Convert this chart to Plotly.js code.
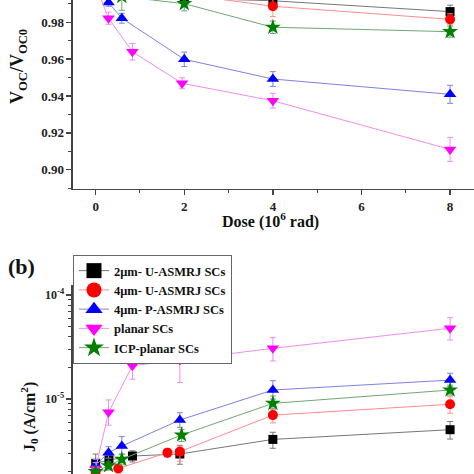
<!DOCTYPE html>
<html><head><meta charset="utf-8">
<script src="https://cdn.plot.ly/plotly-3.0.1.min.js"></script>
<style>html,body{margin:0;padding:0;background:#fff}#chart{width:474px;height:474px}</style>
</head><body><div id="chart"></div>
<script>
// ---------- series ----------
const seriesNames = ['2μm- U-ASMRJ SCs', '4μm- U-ASMRJ SCs', '4μm- P-ASMRJ SCs', 'planar SCs', 'ICP-planar SCs'];
const markerSymbols = ['square', 'circle', 'triangle-up', 'triangle-down', 'star'];
const markerColors = ['#000000', '#ff0000', '#0000ff', '#ff00ff', '#008000'];
const lineColors = ['#777777', '#ff8c8c', '#8080e6', '#f08cf0', '#70a870'];

// ---------- panel (a): Voc/Voc0 vs dose ----------
const doseA_2umU = [0, 0.3, 0.83, 2, 4, 8];
const vocA_2umU  = [1.0, 0.998, 0.996, 0.993, 0.9917, 0.9858];
const errA_2umU  = [0.001, 0.002, 0.002, 0.002, 0.003, 0.0035];

const doseA_4umU = [0, 0.51, 1.62, 1.9, 4, 8];
const vocA_4umU  = [1.0, 0.998, 0.996, 0.9955, 0.9887, 0.9816];
const errA_4umU  = [0.001, 0.002, 0.002, 0.003, 0.0056, 0.003];

const doseA_4umP = [0, 0.29, 0.59, 2, 4, 8];
const vocA_4umP  = [1.0, 0.9907, 0.9822, 0.9599, 0.9492, 0.9409];
const errA_4umP  = [0.001, 0.002, 0.0027, 0.0039, 0.004, 0.0049];

const doseA_planar = [0, 0.29, 0.83, 1.95, 4, 8];
const vocA_planar  = [1.0, 0.9822, 0.964, 0.9469, 0.9374, 0.911];
const errA_planar  = [0.001, 0.0033, 0.0045, 0.003, 0.004, 0.0065];

const doseA_icp = [0, 0.29, 0.59, 2, 4, 8];
const vocA_icp  = [1.0, 0.997, 0.994, 0.9901, 0.9773, 0.9749];
const errA_icp  = [0.001, 0.002, 0.0075, 0.0039, 0.0034, 0.003];

// ---------- panel (b): J0 vs dose ----------
const doseB_2umU = [0, 0.3, 0.83, 1.9, 4, 8];
const j0B_2umU   = [2.41e-6, 2.59e-6, 2.83e-6, 2.96e-6, 4.09e-6, 5.07e-6];
const j0B_2umU_up = [0.55e-6, 0.3e-6, 0.35e-6, 0.63e-6, 0.7e-6, 1.0e-6];
const j0B_2umU_dn = [0.4e-6, 0.3e-6, 0.35e-6, 0.6e-6, 0.73e-6, 0.95e-6];

const doseB_4umU = [0, 0.51, 1.62, 1.9, 4, 8];
const j0B_4umU   = [2.0e-6, 2.15e-6, 3.05e-6, 3.12e-6, 7.0e-6, 8.9e-6];
const j0B_4umU_up = [0.2e-6, 0.2e-6, 0.3e-6, 0.4e-6, 1.1e-6, 1.6e-6];
const j0B_4umU_dn = [0.2e-6, 0.2e-6, 0.3e-6, 0.6e-6, 1.1e-6, 1.6e-6];

const doseB_4umP = [0, 0.29, 0.59, 1.9, 4, 8];
const j0B_4umP   = [2.32e-6, 3.05e-6, 3.53e-6, 6.28e-6, 1.22e-5, 1.52e-5];
const j0B_4umP_up = [0.3e-6, 0.43e-6, 0.82e-6, 1.1e-6, 2.8e-6, 2.5e-6];
const j0B_4umP_dn = [0.3e-6, 0.35e-6, 0.57e-6, 0.94e-6, 2.2e-6, 2.1e-6];

const doseB_planar = [0, 0.29, 0.83, 1.9, 4, 8];
const j0B_planar   = [2.15e-6, 7.45e-6, 2.09e-5, 2.37e-5, 3.07e-5, 4.79e-5];
const j0B_planar_up = [0.3e-6, 2.35e-6, 0.6e-5, 0.93e-5, 0.82e-5, 1.26e-5];
const j0B_planar_dn = [0.3e-6, 1.85e-6, 0.54e-5, 0.93e-5, 0.75e-5, 1.1e-5];

const doseB_icp = [0, 0.29, 0.59, 1.94, 4, 8];
const j0B_icp   = [2.0e-6, 2.28e-6, 2.63e-6, 4.51e-6, 9.08e-6, 1.22e-5];
const j0B_icp_up = [0.2e-6, 0.2e-6, 0.3e-6, 0.6e-6, 1.6e-6, 1.4e-6];
const j0B_icp_dn = [0.2e-6, 0.2e-6, 0.3e-6, 0.6e-6, 1.1e-6, 1.3e-6];

// tick labels
const xTickVals = [0, 2, 4, 6, 8];
const xTickText = ['0', '2', '4', '6', '8'];
const yATickVals = [0.90, 0.92, 0.94, 0.96, 0.98];
const yATickText = ['0.90', '0.92', '0.94', '0.96', '0.98'];
const yBTickVals = [1e-5, 1e-4];
const yBTickText = ['10<sup>-5</sup>', '10<sup>-4</sup>'];
const yBMinorVals = [2e-6,3e-6,4e-6,5e-6,6e-6,7e-6,8e-6,9e-6,2e-5,3e-5,4e-5,5e-5,6e-5,7e-5,8e-5,9e-5];

// ---------- build ----------
const FONT = '"Liberation Serif", "Times New Roman", Times, serif';
const panelA = [
  [doseA_2umU, vocA_2umU, errA_2umU],
  [doseA_4umU, vocA_4umU, errA_4umU],
  [doseA_4umP, vocA_4umP, errA_4umP],
  [doseA_planar, vocA_planar, errA_planar],
  [doseA_icp, vocA_icp, errA_icp]
];
const panelB = [
  [doseB_2umU, j0B_2umU, j0B_2umU_up, j0B_2umU_dn],
  [doseB_4umU, j0B_4umU, j0B_4umU_up, j0B_4umU_dn],
  [doseB_4umP, j0B_4umP, j0B_4umP_up, j0B_4umP_dn],
  [doseB_planar, j0B_planar, j0B_planar_up, j0B_planar_dn],
  [doseB_icp, j0B_icp, j0B_icp_up, j0B_icp_dn]
];
const mSize = [9, 10, 11, 11, 12];
const traces = [];
panelA.forEach((s, i) => {
  traces.push({
    x: s[0], y: s[1], xaxis: 'x', yaxis: 'y', type: 'scatter', mode: 'lines+markers',
    showlegend: false,
    line: {color: lineColors[i], width: 1},
    marker: {symbol: markerSymbols[i], color: markerColors[i], size: mSize[i]},
    error_y: {type: 'data', array: s[2], visible: true, color: lineColors[i], thickness: 1, width: 3}
  });
});
panelB.forEach((s, i) => {
  traces.push({
    x: s[0], y: s[1], xaxis: 'x2', yaxis: 'y2', type: 'scatter', mode: 'lines+markers',
    showlegend: false,
    line: {color: lineColors[i], width: 1},
    marker: {symbol: markerSymbols[i], color: markerColors[i], size: mSize[i]},
    error_y: {type: 'data', symmetric: false, array: s[2], arrayminus: s[3], visible: true, color: lineColors[i], thickness: 1, width: 3}
  });
});
// legend entries
seriesNames.forEach((n, i) => {
  traces.push({
    x: [null], y: [null], xaxis: 'x2', yaxis: 'y2', type: 'scatter', mode: 'lines+markers',
    name: n, showlegend: true,
    line: {color: lineColors[i], width: 1},
    marker: {symbol: markerSymbols[i], color: markerColors[i], size: 15}
  });
});

const axLine = {showline: true, linecolor: '#444', linewidth: 1.5, zeroline: false, showgrid: false,
  ticks: 'outside', ticklen: 5, tickwidth: 1.5, tickcolor: '#444',
  tickfont: {family: FONT, size: 13, color: '#222', weight: 'bold'}};

const layout = {
  width: 474, height: 474, margin: {l: 0, r: 0, t: 0, b: 0},
  paper_bgcolor: '#fff', plot_bgcolor: '#fff',
  font: {family: FONT, color: '#222'},
  xaxis: Object.assign({}, axLine, {domain: [0.154, 1], anchor: 'y', range: [-0.512, 8.54],
    tickmode: 'array', tickvals: xTickVals, ticktext: xTickText,
    minor: {dtick: 1, tick0: 0, ticks: 'outside', ticklen: 3, tickcolor: '#444', tickwidth: 1}}),
  yaxis: Object.assign({}, axLine, {domain: [0.6013, 1], anchor: 'x', range: [0.8895, 0.9921],
    tickmode: 'array', tickvals: yATickVals, ticktext: yATickText,
    minor: {dtick: 0.01, tick0: 0.9, ticks: 'outside', ticklen: 3, tickcolor: '#444', tickwidth: 1}}),
  xaxis2: {domain: [0.154, 1], anchor: 'y2', range: [-0.512, 8.54], showline: false, showgrid: false,
    zeroline: false, showticklabels: false, ticks: ''},
  yaxis2: Object.assign({}, axLine, {domain: [0, 0.3987], anchor: 'x2', type: 'log', range: [-5.721, -3.904],
    tickmode: 'array', tickvals: yBTickVals, ticktext: yBTickText,
    tickfont: {family: FONT, size: 12, color: '#222', weight: 'bold'},
    minor: {tickmode: 'array', tickvals: yBMinorVals, ticks: 'outside', ticklen: 3, tickcolor: '#444', tickwidth: 1}}),
  legend: {x: 0.154, y: 0.462, xanchor: 'left', yanchor: 'top', bgcolor: '#fff',
    bordercolor: '#666', borderwidth: 1, tracegroupgap: 0,
    font: {family: FONT, size: 12.5, color: '#111', weight: 'bold'}},
  annotations: [
    {text: '(b)', xref: 'paper', yref: 'paper', x: 21/474, y: 1 - 266/474, xanchor: 'center', yanchor: 'middle', showarrow: false,
      font: {family: FONT, size: 22, color: '#111', weight: 'bold'}},
    {text: 'V<sub>OC</sub>/V<sub>OC0</sub>', xref: 'paper', yref: 'paper', x: 19/474, y: 1 - 67/474,
      xanchor: 'center', yanchor: 'middle',
      textangle: -90, showarrow: false, font: {family: FONT, size: 18, color: '#111', weight: 'bold'}},
    {text: 'J<sub>0</sub> (A/cm<sup>2</sup>)', xref: 'paper', yref: 'paper', x: 29/474, y: 1 - 417/474,
      xanchor: 'center', yanchor: 'middle',
      textangle: -90, showarrow: false, font: {family: FONT, size: 16, color: '#111', weight: 'bold'}},
    {text: 'Dose (10<sup>6</sup> rad)', xref: 'paper', yref: 'paper', x: 270/474, y: 1 - 220/474,
      xanchor: 'center', yanchor: 'middle',
      showarrow: false, font: {family: FONT, size: 16, color: '#111', weight: 'bold'}}
  ]
};
Plotly.newPlot('chart', traces, layout, {displayModeBar: false, staticPlot: true});
</script>
</body></html>
